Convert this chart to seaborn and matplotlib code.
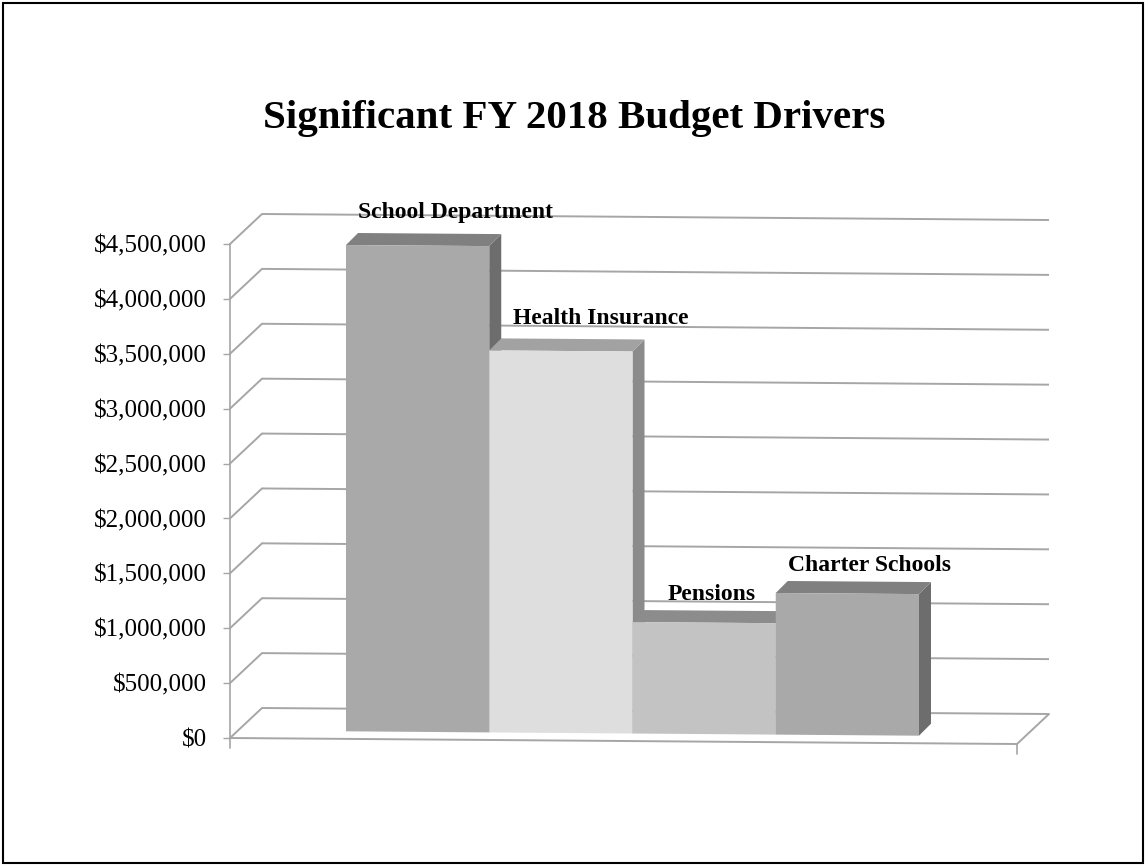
import matplotlib
matplotlib.use("Agg")
import matplotlib.pyplot as plt
import seaborn as sns
import pandas as pd
from matplotlib.transforms import Affine2D, IdentityTransform
from matplotlib.patches import Polygon, Rectangle
from matplotlib.lines import Line2D
from matplotlib.ticker import FuncFormatter

# ---- data -------------------------------------------------------------
categories = ["School Department", "Health Insurance", "Pensions", "Charter Schools"]
amounts = [4430000, 3480000, 1015000, 1290000]
tick_values = [0, 500000, 1000000, 1500000, 2000000, 2500000,
               3000000, 3500000, 4000000, 4500000]
title = "Significant FY 2018 Budget Drivers"

# ---- style ------------------------------------------------------------
front_colors = ["#a9a9a9", "#dedede", "#c3c3c3", "#a9a9a9"]
top_colors = ["#808080", "#a2a2a2", "#8c8c8c", "#808080"]
side_colors = ["#6d6d6d", "#8b8b8b", "#7a7a7a", "#6d6d6d"]
# label offset in pixels (right, up) from the centre of each bar's front top edge
label_shift = [(38, 28), (40, 27), (8, 23), (22, 23)]
grid_color = "#a6a6a6"

W, H, DPI = 1145, 865, 100
sns.set_theme(style="white")
plt.rcParams["font.family"] = ["Liberation Serif", "DejaVu Serif"]

fig = plt.figure(figsize=(W / DPI, H / DPI), dpi=DPI)
fig.patch.set_facecolor("white")
# front plane of the 3-D box
ax = fig.add_axes([230 / W, (H - 738) / H, 787 / W, 494 / H])
ax.set_facecolor("none")

df = pd.DataFrame({"item": categories, "amount": amounts})
sns.barplot(data=df, x="item", y="amount", hue="item", palette=front_colors,
            width=1.0, saturation=1, legend=False, linewidth=0, ax=ax)

xmin, xmax = -1.254, 4.24
ax.set_xlim(xmin, xmax)
ax.set_ylim(0, 4500000)
ax.set_xticks([])
ax.set_xlabel("")
ax.set_ylabel("")
ax.set_yticks(tick_values)
ax.yaxis.set_major_formatter(FuncFormatter(lambda v, p: "${:,.0f}".format(v)))
ax.tick_params(axis="y", direction="out", length=5, width=1, color=grid_color,
               labelsize=18, labelcolor="black", pad=11.5, left=True)
for s in ["top", "right", "bottom"]:
    ax.spines[s].set_visible(False)
ax.spines["left"].set_color(grid_color)
ax.spines["left"].set_linewidth(1.2)

# slight perspective tilt, box depth and bar depth (display pixels)
k = 6 / 786
x0 = 230
tilt = Affine2D.from_values(1, -k, 0, 1, 0, k * x0)
front = ax.transData + tilt
back = front + Affine2D().translate(32, 30)
bar_plane = front + Affine2D().translate(8, 7.5)
bar_depth = (12, 12)

ident = IdentityTransform()


def line_disp(p, q, **kw):
    ln = Line2D([p[0], q[0]], [p[1], q[1]], transform=ident, clip_on=False, **kw)
    ax.add_artist(ln)


# back wall gridlines with their connectors to the front axis
for v in tick_values:
    ax.plot([xmin, xmax], [v, v], transform=back, color=grid_color, lw=1.4,
            clip_on=False, zorder=1, solid_capstyle="butt")
    p = front.transform((xmin, v))
    line_disp(p, (p[0] + 32, p[1] + 30), color=grid_color, lw=1.4, zorder=1)

# floor front edge, right edge and end ticks
ax.plot([xmin, xmax], [0, 0], transform=front, color=grid_color, lw=1.4,
        clip_on=False, zorder=1)
pr = front.transform((xmax, 0))
line_disp(pr, (pr[0] + 32, pr[1] + 30), color=grid_color, lw=1.4, zorder=1)
for xe in (xmin, xmax):
    pe = front.transform((xe, 0))
    line_disp(pe, (pe[0], pe[1] - 10), color=grid_color, lw=1.2, zorder=1)

# 3-D bars: front faces from seaborn, top and side faces from the same bars
bars = sorted(ax.patches, key=lambda r: r.get_x())
dx, dy = bar_depth
for i, (bar, val) in enumerate(zip(bars, amounts)):
    xa = bar.get_x()
    xb = xa + bar.get_width()
    h = bar.get_height()
    base = 3 + 3 * i
    tl = bar_plane.transform((xa, h))
    tr = bar_plane.transform((xb, h))
    br = bar_plane.transform((xb, 0))
    side = Polygon([tr, br, (br[0] + dx, br[1] + dy), (tr[0] + dx, tr[1] + dy)],
                   closed=True, transform=ident, facecolor=side_colors[i],
                   edgecolor="none", clip_on=False, zorder=base)
    top = Polygon([tl, tr, (tr[0] + dx, tr[1] + dy), (tl[0] + dx, tl[1] + dy)],
                  closed=True, transform=ident, facecolor=top_colors[i],
                  edgecolor="none", clip_on=False, zorder=base + 1)
    ax.add_artist(side)
    ax.add_artist(top)
    bar.set_transform(bar_plane)
    bar.set_clip_on(False)
    bar.set_zorder(base + 2)

    sx, sy = label_shift[i]
    ax.annotate(categories[i], xy=((xa + xb) / 2, val), xycoords=bar_plane,
                xytext=(sx * 0.72, sy * 0.72), textcoords="offset points",
                ha="center", va="baseline", fontsize=17, fontweight="bold",
                color="black", annotation_clip=False, zorder=20)

fig.text(574.5 / W, 1 - 128 / H, title, ha="center", va="baseline",
         fontsize=29.5, fontweight="bold", color="black")

fig.patches.append(Rectangle((2.5 / W, 2.5 / H), 1 - 5 / W, 1 - 5 / H,
                             transform=fig.transFigure, fill=False,
                             edgecolor="black", linewidth=1.5))

fig.savefig("out.png", dpi=DPI)
